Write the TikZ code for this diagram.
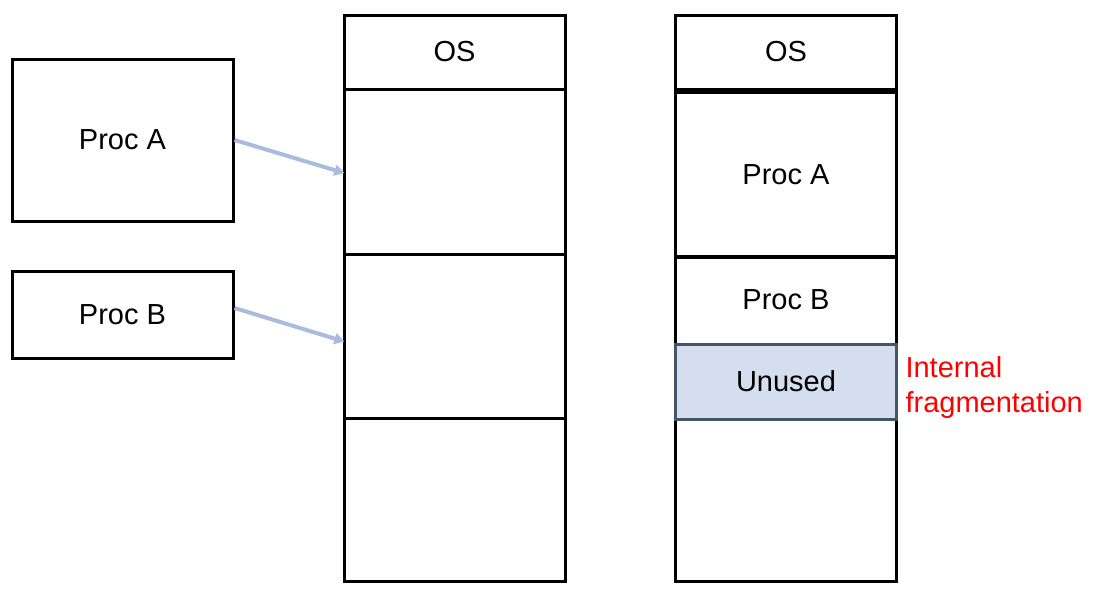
\documentclass[tikz,border=0pt]{standalone}
\usepackage{fontspec}
\setmainfont{Liberation Sans}
\usetikzlibrary{positioning,arrows.meta}
\definecolor{unusedfill}{HTML}{D4DEEF}
\definecolor{unusededge}{HTML}{44546A}
\definecolor{arrowblue}{HTML}{A9BCDF}
\begin{document}
\begin{tikzpicture}[x=1pt,y=-1pt,
	blk/.style={draw,line width=3pt,inner sep=0pt,minimum width=221pt,font=\fontsize{29}{32}\selectfont},
	mapto/.style={draw=arrowblue,line width=4pt,shorten >=-2pt,-{Triangle[length=10pt,width=11pt]}}]
	\useasboundingbox (0,0) rectangle (1101,597);
	% processes
	\node[blk,minimum height=162pt] (procA) at (122.5,140) {Proc A};
	\node[blk,minimum height=87pt] (procB) at (122.5,315) {Proc B};
	% memory with fixed partitions
	\node[blk,minimum height=74pt] (os1) at (454.5,52) {OS};
	\node[blk,minimum height=165pt] (part1) at (454.5,171.5) {};
	\node[blk,minimum height=164pt] (part2) at (454.5,336) {};
	\node[blk,minimum height=163pt] (part3) at (454.5,499.5) {};
	% memory after loading
	\node[blk,minimum height=74pt] (os2) at (786,52) {OS};
	\node[blk,minimum height=165pt] (loadA) at (786,174.5) {Proc A};
	\node[blk,minimum height=88pt] (loadB) at (786,300) {Proc B};
	\node[blk,minimum height=162pt] (free) at (786,500) {};
	\node[blk,draw=unusededge,fill=unusedfill,minimum height=75pt] (unused) at (786,381.5) {Unused};
	\node[anchor=west,align=left,text=red,font=\fontsize{29}{35}\selectfont] (frag) at ([xshift=4pt,yshift=-6pt]unused.east) {Internal\\fragmentation};
	% arrows
	\draw[mapto] (procA.east) -- ([yshift=-1pt]part1.west);
	\draw[mapto] ([yshift=7pt]procB.east) -- ([yshift=-5pt]part2.west);
\end{tikzpicture}
\end{document}
